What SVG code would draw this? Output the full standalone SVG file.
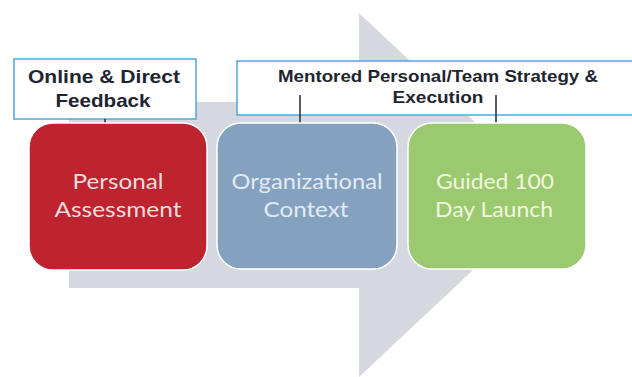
<svg xmlns="http://www.w3.org/2000/svg" width="632" height="377" viewBox="0 0 632 377">
<style>
.lbl{fill:#fff;stroke:#4fa6dc;stroke-width:1.5}
.ltx{font-family:"Liberation Sans",Arial,sans-serif;font-weight:bold;fill:#1e2530;text-anchor:middle}
.box{stroke:#fff;stroke-width:1.5}
.btx{font-family:Lato,"Open Sans",sans-serif;font-size:21px;text-anchor:middle}
.con{stroke:#2a2a2a;stroke-width:1.5;fill:none}
</style>
<rect width="632" height="377" fill="#fff"/>
<polygon id="arrow" points="69,102 359,102 359,13 553,195 359,377 359,288 69,288" fill="#d5d8de"/>
<g id="label-feedback">
<rect class="lbl" x="14" y="59" width="182" height="60"/>
<text class="ltx" font-size="19" x="104" y="83" textLength="152" lengthAdjust="spacingAndGlyphs">Online &amp; Direct</text>
<text class="ltx" font-size="19" x="103" y="107" textLength="95" lengthAdjust="spacingAndGlyphs">Feedback</text>
</g>
<g id="label-mentored">
<rect class="lbl" x="237" y="61" width="410" height="54"/>
<text class="ltx" font-size="17" x="438" y="82" textLength="320" lengthAdjust="spacingAndGlyphs">Mentored Personal/Team Strategy &amp;</text>
<text class="ltx" font-size="17" x="438" y="103" textLength="91" lengthAdjust="spacingAndGlyphs">Execution</text>
</g>
<g id="connectors">
<line class="con" x1="105" y1="119" x2="105" y2="124"/>
<line class="con" x1="300" y1="95" x2="300" y2="124"/>
<line class="con" x1="496" y1="95" x2="496" y2="124"/>
</g>
<g id="personal-assessment">
<rect class="box" x="29" y="123" width="178" height="147" rx="24" fill="#bd2430"/>
<text class="btx" fill="#f4dcdc" x="118" y="189" textLength="91" lengthAdjust="spacingAndGlyphs">Personal</text>
<text class="btx" fill="#f4dcdc" x="118" y="217" textLength="127" lengthAdjust="spacingAndGlyphs">Assessment</text>
</g>
<g id="organizational-context">
<rect class="box" x="217" y="123" width="180" height="146" rx="24" fill="#84a1bf"/>
<text class="btx" fill="#e2eaf3" x="307" y="189" textLength="151" lengthAdjust="spacingAndGlyphs">Organizational</text>
<text class="btx" fill="#e2eaf3" x="306" y="217" textLength="85" lengthAdjust="spacingAndGlyphs">Context</text>
</g>
<g id="guided-launch">
<rect class="box" x="408" y="123" width="178" height="146" rx="24" fill="#9bc970"/>
<text class="btx" fill="#f3f5df" x="495" y="189" textLength="118" lengthAdjust="spacingAndGlyphs">Guided 100</text>
<text class="btx" fill="#f3f5df" x="494" y="217" textLength="118" lengthAdjust="spacingAndGlyphs">Day Launch</text>
</g>
</svg>
